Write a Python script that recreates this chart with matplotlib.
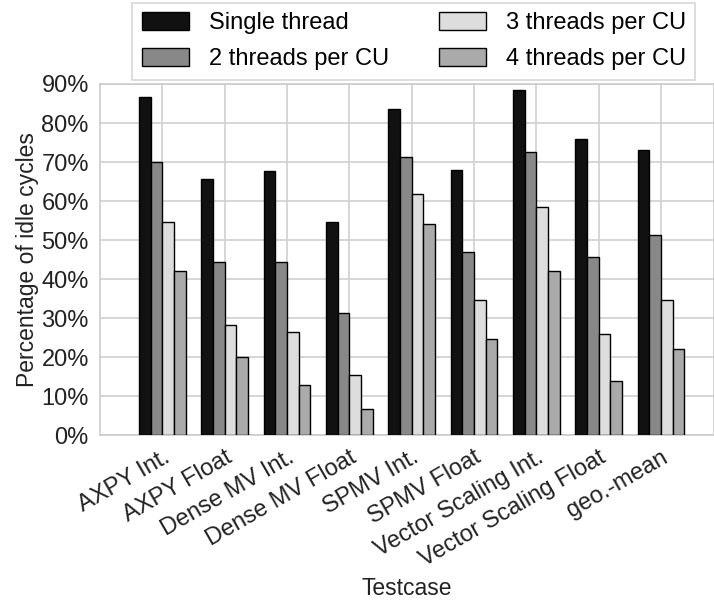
import matplotlib
matplotlib.use("Agg")
import matplotlib.pyplot as plt
import numpy as np

plt.rcParams['font.family'] = ['Liberation Sans', 'DejaVu Sans']

testcases = ["AXPY Int.", "AXPY Float", "Dense MV Int.", "Dense MV Float", "SPMV Int.",
             "SPMV Float", "Vector Scaling Int.", "Vector Scaling Float", "geo.-mean"]
single = [86.6, 65.7, 67.7, 54.6, 83.6, 68.0, 88.5, 75.9, 73.0]
two_per_cu = [70.0, 44.3, 44.4, 31.3, 71.3, 47.1, 72.6, 45.6, 51.3]
three_per_cu = [54.6, 28.2, 26.4, 15.4, 61.7, 34.6, 58.4, 25.9, 34.6]
four_per_cu = [42.2, 20.2, 13.0, 6.8, 54.2, 24.7, 42.1, 14.0, 22.2]

series = [("Single thread", single, "#111111"),
          ("2 threads per CU", two_per_cu, "#888888"),
          ("3 threads per CU", three_per_cu, "#dddddd"),
          ("4 threads per CU", four_per_cu, "#aaaaaa")]

fig = plt.figure(figsize=(7.14, 6.04), dpi=100)
ax = fig.add_axes([0.140, 0.279, 0.860, 0.582])

x = np.arange(len(testcases))
w = 0.1875
for i, (name, vals, col) in enumerate(series):
    ax.bar(x + (i - 2) * w, vals, w, align="edge", color=col, edgecolor="black",
           linewidth=1.0, label=name, zorder=3)

ax.set_xlim(-1, 8.85)
ax.set_ylim(0, 90)
ax.set_yticks(range(0, 91, 10))
ax.set_yticklabels([f"{v}%" for v in range(0, 91, 10)], fontsize=17, color="#222222")
ax.set_xticks(x)
ax.set_xticklabels(testcases, rotation=30, ha="right", rotation_mode="anchor",
                   fontsize=17, color="#222222")
ax.tick_params(length=0, pad=8)
ax.grid(True, color="#d0d0d0", linewidth=1.2, zorder=0)
for s in ax.spines.values():
    s.set_color("#cccccc")
    s.set_linewidth(1.2)
ax.set_ylabel("Percentage of idle cycles", fontsize=16.5, color="#222222", labelpad=2)
ax.set_xlabel("Testcase", fontsize=16.5, color="#222222", labelpad=4)

leg = fig.legend(loc="lower left", bbox_to_anchor=(0.185, 0.868), ncol=2,
                 fontsize=17, frameon=True, fancybox=False, edgecolor="#cccccc",
                 handlelength=2.0, handleheight=0.77, handletextpad=0.85,
                 columnspacing=2.1, borderpad=0.4, labelspacing=0.6,
                 borderaxespad=0)
leg.get_frame().set_linewidth(1.2)

fig.savefig("out.png", dpi=100)
